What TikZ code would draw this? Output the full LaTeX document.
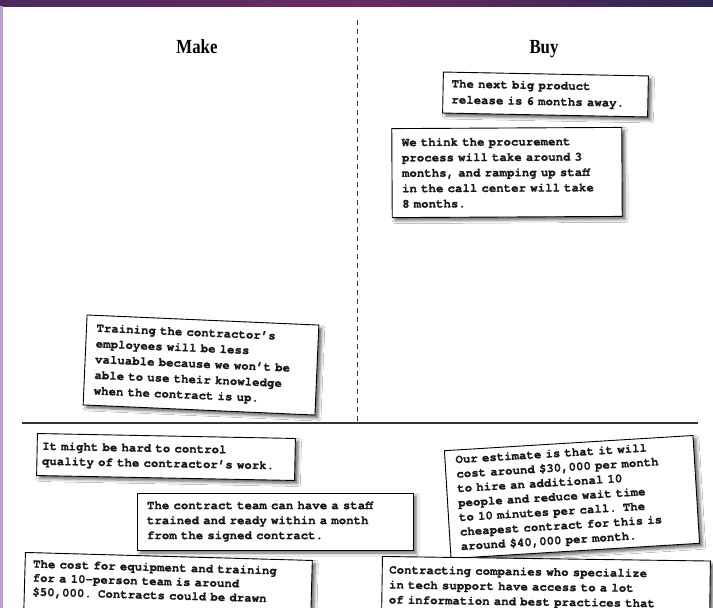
\documentclass[tikz,border=0pt]{standalone}
\usepackage{fontspec}
\setmainfont{Liberation Serif}
\newfontfamily\notefam{texgyrecursor-bold.otf}[FakeBold=0.8]
\usetikzlibrary{shadows.blur}
\definecolor{barL}{HTML}{4A2A5C}
\definecolor{barM}{HTML}{6B2B63}
\definecolor{barR}{HTML}{2E2650}
\definecolor{strip}{HTML}{B7A2C8}
\newcommand\nf[1]{\notefam\fontsize{12.4pt}{#1pt}\selectfont}
\begin{document}
\begin{tikzpicture}[x=1pt,y=-1pt,
 note/.style={draw=black, line width=0.9pt, fill=white, align=left, inner ysep=4pt, text=black!90,
   blur shadow={shadow xshift=3pt, shadow yshift=-3pt, shadow blur radius=3pt, shadow opacity=60}},
 heading/.style={font=\fontsize{20pt}{24pt}\selectfont\bfseries, anchor=base, inner sep=0pt},
 divider/.style={line width=0.8pt, draw=black!80}]
\useasboundingbox (0,0) rectangle (713,608);
\clip (0,0) rectangle (713,608);
\fill[white] (0,0) rectangle (713,608);
\shade[left color=barL, right color=barR, middle color=barM] (0,0) rectangle (713,6);
\fill[strip] (0,6) rectangle (3,608);

\coordinate (vtop) at (357,20);
\coordinate (vbot) at (357,423);
\coordinate (hl) at (22,423);
\coordinate (hr) at (698,423);
\draw[divider, dash pattern=on 5pt off 4pt] (vtop) -- (vbot);
\draw[divider, line width=1.1pt] (hl) -- (hr);

\node[heading] (make) at (197,53) {\scalebox{0.84}[1]{Make}};
\node[heading] (buy) at (544,53) {\scalebox{0.84}[1]{Buy}};

\node[note, rotate=-1.1, text width=188pt, inner xsep=8.5pt, minimum height=41pt, font=\nf{16}] (b1) at (545.5,94.5)
 {The next big product\\release is 6 months away.};
\node[note, rotate=0.3, text width=210pt, inner xsep=10pt, minimum height=89pt, font=\nf{15.4}] (b2) at (507,172.5)
 {We think the procurement\\process will take around 3\\months, and ramping up staff\\in the call center will take\\8 months.};
\node[note, rotate=-2.5, text width=212pt, inner xsep=10pt, minimum height=90pt, font=\nf{15.7}] (b3) at (201,365)
 {Training the contractor’s\\employees will be less\\valuable because we won’t be\\able to use their knowledge\\when the contract is up.};
\node[note, rotate=-1.1, text width=248pt, inner xsep=5pt, minimum height=42pt, font=\nf{15}] (b4) at (166,457)
 {It might be hard to control\\quality of the contractor’s work.};
\node[note, text width=256pt, inner xsep=10pt, minimum height=57pt, font=\nf{15}] (b5) at (275,521.5)
 {The contract team can have a staff\\trained and ready within a month\\from the signed contract.};
\node[note, rotate=3.5, text width=228pt, inner xsep=10.5pt, minimum height=108pt, font=\nf{14.5}] (b6) at (572,497)
 {Our estimate is that it will\\cost around \$30,000 per month\\to hire an additional 10\\people and reduce wait time\\to 10 minutes per call. The\\cheapest contract for this is\\around \$40,000 per month.};
\node[note, anchor=north west, rotate=-0.8, text width=314pt, inner xsep=7pt, inner ysep=9pt, text depth=60pt, font=\nf{15}] (b7) at (382,556)
 {Contracting companies who specialize\\in tech support have access to a lot\\of information and best practices that};
\node[note, anchor=north west, rotate=-1.6, text width=271pt, inner xsep=8pt, inner ysep=7pt, text depth=60pt, font=\nf{14}] (b8) at (25,552)
 {The cost for equipment and training\\for a 10-person team is around\\\$50,000. Contracts could be drawn};
\end{tikzpicture}
\end{document}
